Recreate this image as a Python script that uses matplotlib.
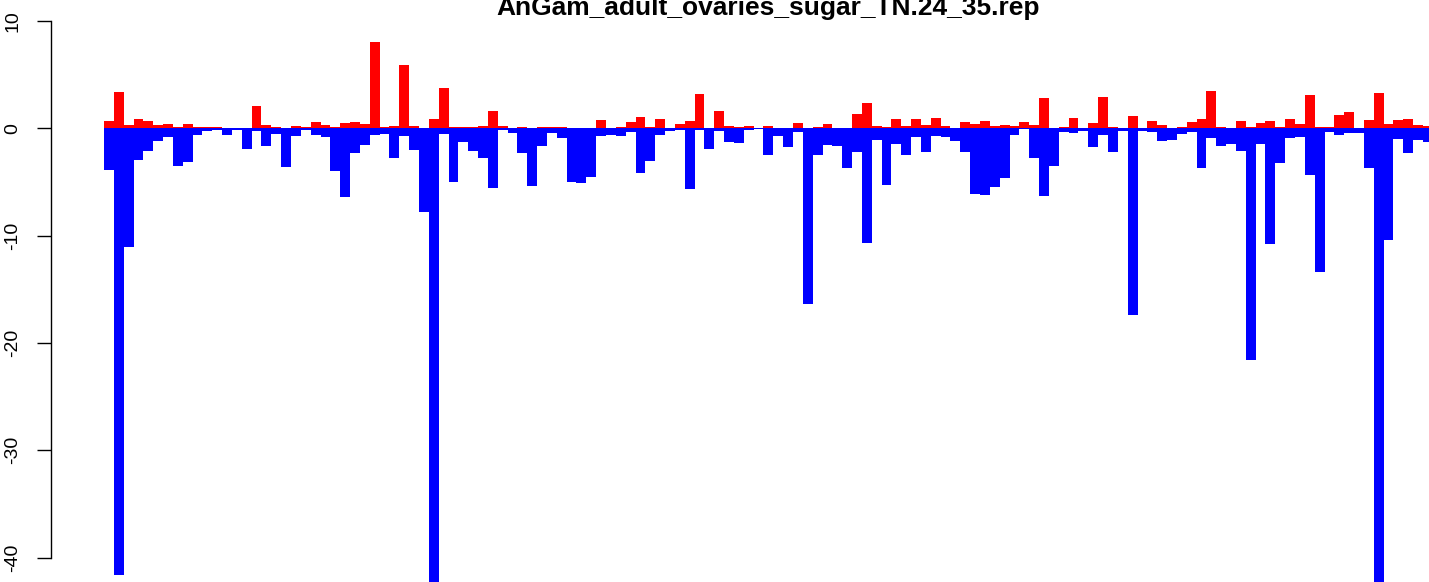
import numpy as np
import matplotlib
matplotlib.use("Agg")
import matplotlib.pyplot as plt

plt.rcParams['font.family'] = ['Liberation Sans', 'DejaVu Sans']

title = "AnGam_adult_ovaries_sugar_TN.24_35.rep"

# per-position scores: upper (red) and lower (blue) parts
pos = [0.68, 3.35, 0.28, 0.84, 0.65, 0.28, 0.37, 0.09, 0.37, 0.09,
       0.09, 0.09, 0, 0, 0, 2.05, 0.28, 0.09, 0, 0.19,
       0.09, 0.56, 0.28, 0.09, 0.47, 0.56, 0.37, 8.01, 0.09, 0.19,
       5.87, 0.19, 0, 0.84, 3.73, 0.09, 0.09, 0.09, 0.19, 1.58,
       0.19, 0, 0.09, 0, 0.09, 0.09, 0.09, 0, 0, 0,
       0.75, 0, 0.09, 0.56, 1.02, 0.09, 0.84, 0, 0.37, 0.65,
       3.17, 0, 1.58, 0.19, 0.09, 0.19, 0, 0.19, 0, 0,
       0.47, 0, 0.09, 0.37, 0, 0, 1.30, 2.33, 0.19, 0.09,
       0.84, 0.19, 0.84, 0.28, 0.93, 0.19, 0, 0.56, 0.37, 0.65,
       0.19, 0.28, 0.19, 0.56, 0.28, 2.80, 0, 0.09, 0.93, 0,
       0.47, 2.89, 0.09, 0, 1.12, 0, 0.65, 0.28, 0, 0.09,
       0.56, 0.84, 3.45, 0.09, 0, 0.65, 0.09, 0.47, 0.65, 0.09,
       0.84, 0.37, 3.07, 0.09, 0.09, 1.21, 1.49, 0, 0.75, 3.26,
       0.37, 0.75, 0.84, 0.28, 0.19]

neg = [-3.9, -41.6, -11.05, -2.98, -2.11, -1.21, -0.81, -3.54, -3.17, -0.62,
       -0.25, -0.15, -0.62, -0.15, -1.93, -0.25, -1.68, -0.53, -3.6, -0.71,
       -0.15, -0.62, -0.81, -3.98, -6.4, -2.3, -1.55, -0.62, -0.53, -2.76,
       -0.71, -2.02, -7.8, -43.0, -0.53, -5.0, -1.27, -2.11, -2.76, -5.56,
       -0.15, -0.43, -2.3, -5.37, -1.65, -0.43, -0.9, -5.0, -5.09, -4.53,
       -0.71, -0.62, -0.71, -0.34, -4.16, -3.04, -0.62, -0.25, -0.15, -5.65,
       -0.15, -1.93, -0.25, -1.27, -1.37, -0.15, -0.09, -2.48, -0.71, -1.74,
       -0.34, -16.4, -2.48, -1.55, -1.65, -3.7, -2.2, -10.68, -1.09, -5.28,
       -1.46, -2.48, -0.81, -2.2, -0.71, -0.81, -1.18, -2.2, -6.12, -6.21,
       -5.47, -4.63, -0.62, -0.09, -2.76, -6.3, -3.5, -0.34, -0.43, -0.25,
       -1.74, -0.62, -2.2, -0.25, -17.4, -0.25, -0.34, -1.18, -1.09, -0.53,
       -0.34, -3.7, -0.9, -1.65, -1.46, -2.11, -21.6, -1.46, -10.78, -3.23,
       -0.9, -0.81, -4.35, -13.4, -0.34, -0.62, -0.43, -0.43, -3.7, -43.0,
       -10.4, -1.0, -2.3, -1.09, -1.27]

yticks = [-40, -30, -20, -10, 0, 10]

W, H = 1429, 582
fig = plt.figure(figsize=(W / 100, H / 100), dpi=100)
ax = fig.add_axes([51 / W, 0, 1 - 51 / W, 1])

x = np.arange(len(pos))
ax.bar(x, pos, width=1.0, align='edge', color='#ff0000', linewidth=0)
ax.bar(x, neg, width=1.0, align='edge', color='#0000ff', linewidth=0)

bw = 9.843  # pixels per bar
ax.set_xlim(-(104 - 51) / bw, (W - 104) / bw)
ppu = 537 / 50.0
ax.set_ylim(-(H - 128.1) / ppu, 128.1 / ppu)

for s in ['top', 'right', 'bottom']:
    ax.spines[s].set_visible(False)
ax.spines['left'].set_bounds(-40, 10)
ax.spines['left'].set_linewidth(1.0)
ax.set_xticks([])
ax.set_yticks(yticks)
ax.set_yticklabels([str(t) for t in yticks])
ax.tick_params(axis='y', length=10, width=1.0, pad=11.5, labelsize=14,
               labelrotation=90)
for lab in ax.get_yticklabels():
    lab.set_va('center')

fig.text(768 / W, 1 - 15 / H, title, ha='center', va='baseline',
         fontsize=19, fontweight='bold')

fig.savefig("out.png", dpi=100)
